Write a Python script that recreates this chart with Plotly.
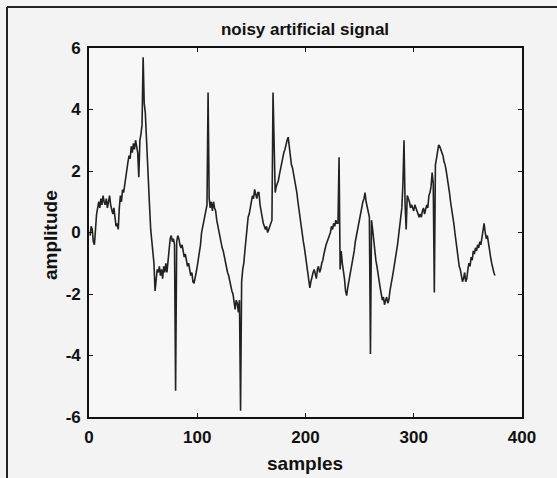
import plotly.graph_objects as go

amplitude = [
    -0.1, 0.2, 0.1, -0.3, -0.4, 0.2, 0.6, 0.8, 1.0, 0.8,
    1.1, 0.9, 1.2, 1.0, 0.9, 1.1, 0.8, 1.0, 1.2, 0.9,
    0.7, 0.6, 0.8, 0.4, 0.2, 0.3, 0.1, 0.8, 1.2, 1.0,
    1.4, 1.3, 1.6, 1.8, 2.0, 2.3, 2.5, 2.4, 2.8, 2.6,
    2.9, 2.7, 3.0, 2.8, 2.6, 1.8, 3.0, 3.2, 3.5, 5.7,
    4.2, 3.9, 3.0, 2.4, 1.5, 0.8, 0.1, -0.3, -0.6, -1.0,
    -1.9, -1.5, -1.2, -1.3, -1.1, -1.4, -1.2, -1.5, -1.1, -1.3,
    -1.0, -1.3, -0.9, -0.4, -0.2, -0.1, -0.3, -0.2, -0.4, -5.15,
    -0.3, -0.1, -0.2, -0.4, -0.5, -0.4, -0.6, -0.8, -0.7, -0.9,
    -1.1, -1.0, -1.2, -1.4, -1.3, -1.6, -1.65, -1.4, -1.3, -1.1,
    -0.9, -0.6, -0.4, 0.0, 0.2, 0.4, 0.5, 0.7, 0.9, 4.55,
    1.1, 0.8, 1.0, 0.7, 1.0, 0.8, 0.7, 0.4, 0.2, 0.0,
    -0.1, -0.3, -0.5, -0.6, -0.8, -1.0, -1.1, -1.3, -1.4, -1.6,
    -1.8, -1.9, -2.0, -2.3, -2.5, -2.2, -2.3, -2.6, -2.2, -5.8,
    -1.6, -1.2, -1.0, -0.6, -0.2, 0.2, 0.5, 0.6, 0.9, 1.0,
    1.2, 1.1, 1.4, 1.2, 1.1, 1.3, 1.3, 0.9, 0.6, 0.5,
    0.3, 0.2, 0.1, 0.2, 0.0, 0.1, 0.2, 0.3, 0.4, 4.55,
    2.5, 1.3, 1.5, 1.6, 1.7, 1.9, 2.1, 2.3, 2.4, 2.6,
    2.7, 2.9, 3.0, 3.1, 2.8, 2.3, 2.2, 2.1, 1.9, 1.8,
    1.6, 1.3, 1.0, 0.7, 0.4, 0.2, 0.0, -0.3, -0.5, -0.8,
    -1.0, -1.3, -1.5, -1.8, -1.6, -1.4, -1.3, -1.2, -1.4, -1.5,
    -1.2, -1.1, -1.3, -1.2, -1.0, -0.9, -0.7, -0.5, -0.4, -0.3,
    -0.2, -0.1, 0.0, 0.2, 0.1, 0.3, 0.2, 0.4, 0.3, 0.3,
    2.45, -1.2, -0.6, -1.0, -1.2, -1.5, -1.9, -2.05, -1.8, -1.6,
    -1.4, -1.3, -1.1, -0.9, -0.6, -0.3, -0.1, 0.1, 0.3, 0.5,
    0.6, 0.8, 1.0, 1.1, 1.3, 1.0, 0.8, 0.6, 0.5, -3.95,
    0.4, 0.1, -0.3, -0.6, -0.9, -1.1, -1.4, -1.6, -1.8, -2.0,
    -2.2, -2.1, -2.35, -2.2, -2.1, -2.3, -2.2, -1.9, -1.6, -1.5,
    -1.3, -1.1, -0.9, -0.6, -0.4, -0.1, 0.2, 0.5, 0.8, 1.6,
    3.0, 0.9, 0.1, 1.2, 1.1, 1.0, 0.8, 0.9, 0.8, 0.7,
    0.9, 0.8, 0.7, 0.6, 0.5, 0.6, 0.5, 0.7, 0.8, 0.6,
    0.8, 0.9, 0.8, 1.2, 1.3, 1.5, 1.95, 1.6, -1.95, 2.2,
    2.4, 2.7, 2.85, 2.8, 2.7, 2.6, 2.5, 2.3, 2.2, 2.0,
    1.8, 1.5, 1.3, 1.0, 0.8, 0.5, 0.3, 0.0, -0.3, -0.6,
    -0.9, -1.1, -1.2, -1.4, -1.6, -1.5, -1.3, -1.6, -1.5, -1.2,
    -1.0, -1.1, -0.8, -0.9, -0.6, -0.7, -0.5, -0.6, -0.4, -0.5,
    -0.3, -0.4, -0.1, 0.1, 0.3, 0.0, -0.2, -0.1, -0.4, -0.6,
    -0.8, -1.0, -1.2, -1.3, -1.4,
]
samples = list(range(1, len(amplitude) + 1))

x_ticks = [0, 100, 200, 300, 400]
y_ticks = [-6, -4, -2, 0, 2, 4, 6]

font_family = "Liberation Sans, Arial, sans-serif"
ink = "#111111"

L, R, T, B = 89, 35, 48, 61
W, H = 557, 478
pw, ph = W - L - R, H - T - B


def px_to_paper_x(px):
    return (px - L) / pw


def py_to_paper_y(py):
    return (H - B - py) / ph


fig = go.Figure()
fig.add_trace(go.Scatter(
    x=samples, y=amplitude, mode="lines",
    line=dict(color="#222222", width=1.6),
    showlegend=False, hoverinfo="skip",
))

axis_common = dict(
    showline=True, linecolor=ink, linewidth=1.6, mirror="ticks",
    ticks="inside", ticklen=4, tickcolor=ink, tickwidth=1.2,
    showgrid=False, zeroline=False, automargin=False,
    tickfont=dict(family=font_family, size=17, color=ink, weight="bold"),
)

fig.update_layout(
    width=W, height=H,
    margin=dict(l=L, r=R, t=T, b=B, autoexpand=False),
    paper_bgcolor="#f3f3f3", plot_bgcolor="#f7f7f7",
    title=dict(
        text="noisy artificial signal", x=px_to_paper_x(305), xanchor="center",
        xref="paper", yref="container", y=1 - 29 / H, yanchor="middle",
        font=dict(family=font_family, size=17, color=ink, weight="bold"),
    ),
    xaxis=dict(
        range=[0, 400], tickvals=x_ticks, ticktext=[str(v) for v in x_ticks],
        ticklabelstandoff=4,
        **axis_common,
    ),
    yaxis=dict(
        range=[-6, 6], tickvals=y_ticks, ticktext=[str(v) for v in y_ticks],
        ticklabelstandoff=3,
        **axis_common,
    ),
    annotations=[
        dict(text="samples", xref="paper", yref="paper",
             x=px_to_paper_x(305), y=py_to_paper_y(463),
             xanchor="center", yanchor="middle", showarrow=False,
             font=dict(family=font_family, size=19, color=ink, weight="bold")),
        dict(text="amplitude", xref="paper", yref="paper",
             x=px_to_paper_x(50), y=py_to_paper_y(235), textangle=-90,
             xanchor="center", yanchor="middle", showarrow=False,
             font=dict(family=font_family, size=19, color=ink, weight="bold")),
    ],
    shapes=[
        dict(type="line", xref="paper", yref="paper",
             x0=px_to_paper_x(7), x1=px_to_paper_x(570),
             y0=py_to_paper_y(7), y1=py_to_paper_y(7),
             line=dict(color="#222222", width=2)),
        dict(type="line", xref="paper", yref="paper",
             x0=px_to_paper_x(7), x1=px_to_paper_x(7),
             y0=py_to_paper_y(7), y1=py_to_paper_y(490),
             line=dict(color="#222222", width=2)),
    ],
)

fig.write_html(
    "out.html",
    config={"displayModeBar": False},
    post_script="document.body.style.margin='0';document.body.style.overflow='hidden';",
)
